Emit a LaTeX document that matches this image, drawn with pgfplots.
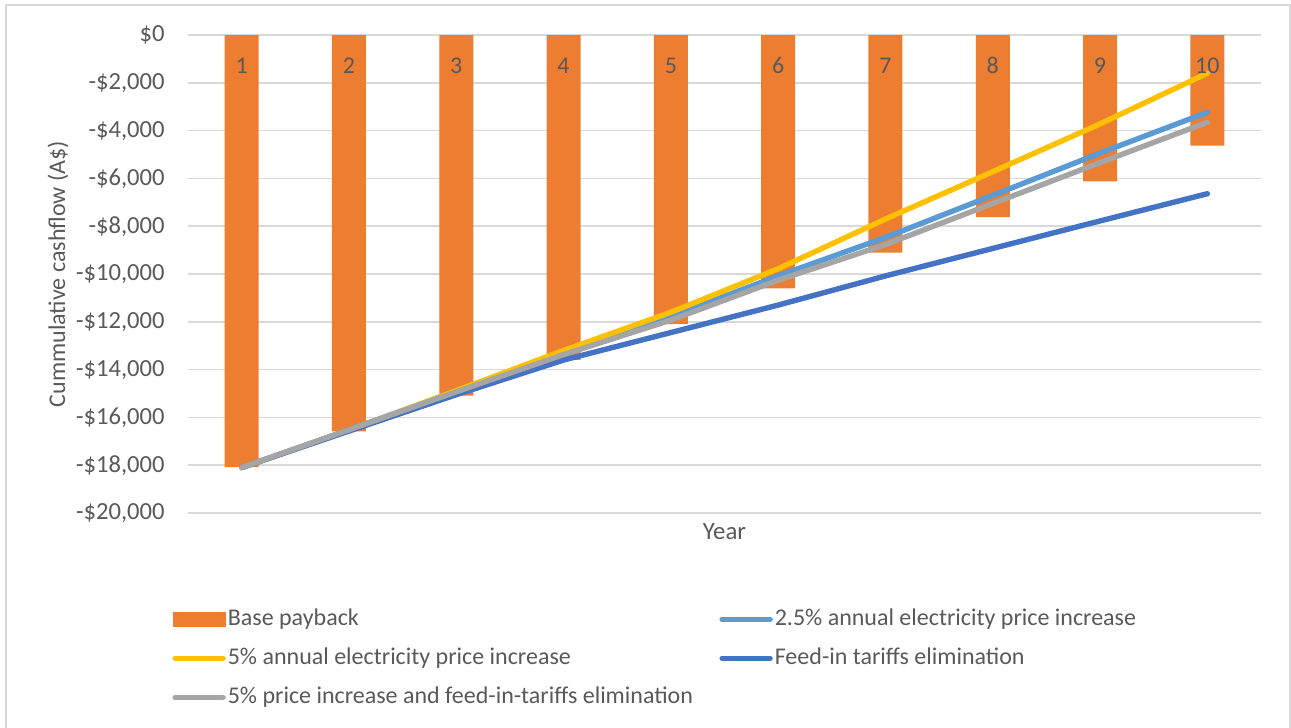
\documentclass[border=0pt]{standalone}
\usepackage{fontspec}
\setmainfont{Carlito}
\usepackage{pgfplots}
\usepackage{pgfplotstable}
\pgfplotsset{compat=1.18}

\definecolor{barorange}{HTML}{ED7D31}
\definecolor{lightblue}{HTML}{5B9BD5}
\definecolor{gold}{HTML}{FFC000}
\definecolor{darkblue}{HTML}{4472C4}
\definecolor{midgray}{HTML}{A5A5A5}
\definecolor{textgray}{HTML}{595959}
\definecolor{gridgray}{HTML}{D9D9D9}

% Cumulative cashflow per year for each scenario (A$)
\pgfplotstableread{
year base inc25 inc5 fit combo
1 -18080 -18100 -18100 -18100 -18100
2 -16585 -16520 -16550 -16570 -16520
3 -15090 -14900 -14880 -15050 -14930
4 -13595 -13300 -13200 -13600 -13370
5 -12100 -11780 -11600 -12450 -11930
6 -10605 -10080 -9780 -11300 -10260
7 -9110 -8470 -7700 -10080 -8770
8 -7615 -6710 -5720 -8930 -7050
9 -6120 -4940 -3720 -7780 -5340
10 -4625 -3235 -1600 -6640 -3650
}\cashflow

% Year labels sit inside the bars, just below the zero line
\pgfplotstableread{
year pos
1 -1290
2 -1290
3 -1290
4 -1290
5 -1290
6 -1290
7 -1290
8 -1290
9 -1290
10 -1290
}\yearlabels

\begin{document}
\fontsize{12pt}{14.4pt}\selectfont
\begin{tikzpicture}
\useasboundingbox (0,0) rectangle (645.5pt,-364pt);
% chart frame
\draw[gridgray, line width=0.75pt] (3pt,-370pt) -- (3pt,-2.5pt) -- (645pt,-2.5pt) -- (645pt,-370pt);
\begin{axis}[
  at={(94pt,-256.5pt)}, anchor=south west,
  scale only axis, width=536.5pt, height=239pt,
  xmin=0.5, xmax=10.5, ymin=-20000, ymax=0,
  xtick=\empty,
  scaled y ticks=false,
  ytick={-20000,-18000,-16000,-14000,-12000,-10000,-8000,-6000,-4000,-2000,0},
  yticklabels={{-\$20,000},{-\$18,000},{-\$16,000},{-\$14,000},{-\$12,000},
    {-\$10,000},{-\$8,000},{-\$6,000},{-\$4,000},{-\$2,000},{\$0}},
  y tick label style={anchor=east, inner sep=0pt, xshift=-11.5pt, text=textgray,
    font=\fontsize{12.3pt}{14pt}\selectfont},
  major tick length=0pt,
  axis line style={draw=none},
  ymajorgrids, grid style={gridgray, line width=0.75pt},
  ylabel={Cummulative cashflow (A\$)},
  every axis y label/.style={at={(axis description cs:-0.1212,0.5)}, rotate=90,
    anchor=center, text=textgray, font=\fontsize{12pt}{14pt}\selectfont},
  xlabel={Year},
  every axis x label/.style={at={(axis description cs:0.5,0)}, anchor=center,
    yshift=-9.5pt, text=textgray, font=\fontsize{12.4pt}{14pt}\selectfont},
  legend columns=2,
  legend cell align=left,
  legend style={draw=none, fill=none, inner sep=0pt,
    at={(axis description cs:-0.0149,-0.196)}, anchor=north west,
    font=\fontsize{12pt}{14pt}\selectfont,
    nodes={text=textgray, inner sep=1pt},
    row sep=7.4pt,
    /tikz/every even column/.append style={column sep=12.2pt}},
  legend image code/.code={\draw[#1, line cap=round] (1.25pt,0pt) -- (25.25pt,0pt);},
]
\addplot[ybar, bar width=17pt, fill=barorange, draw=none,
  legend image code/.code={\fill[barorange] (0pt,-3.75pt) rectangle (26.5pt,3.75pt);}]
  table[x=year, y=base] {\cashflow};
\addlegendentry{Base payback}
\addplot[sharp plot, lightblue, line width=2.7pt, line cap=round, line join=round]
  table[x=year, y=inc25] {\cashflow};
\addlegendentry{2.5\% annual electricity price increase}
\addplot[sharp plot, gold, line width=2.7pt, line cap=round, line join=round]
  table[x=year, y=inc5] {\cashflow};
\addlegendentry{5\% annual electricity price increase}
\addplot[sharp plot, darkblue, line width=2.7pt, line cap=round, line join=round]
  table[x=year, y=fit] {\cashflow};
\addlegendentry{Feed-in tariffs elimination}
\addplot[sharp plot, midgray, line width=2.7pt, line cap=round, line join=round]
  table[x=year, y=combo] {\cashflow};
\addlegendentry{5\% price increase and feed-in-tariffs elimination}
% category names
\addplot[only marks, mark=none, forget plot, point meta=x,
  nodes near coords={\pgfmathprintnumber[assume math mode=true]{\pgfplotspointmeta}},
  nodes near coords style={anchor=center, inner sep=0pt, text=textgray,
    font=\fontsize{12pt}{14pt}\selectfont}]
  table[x=year, y=pos] {\yearlabels};
\end{axis}
\end{tikzpicture}
\end{document}
